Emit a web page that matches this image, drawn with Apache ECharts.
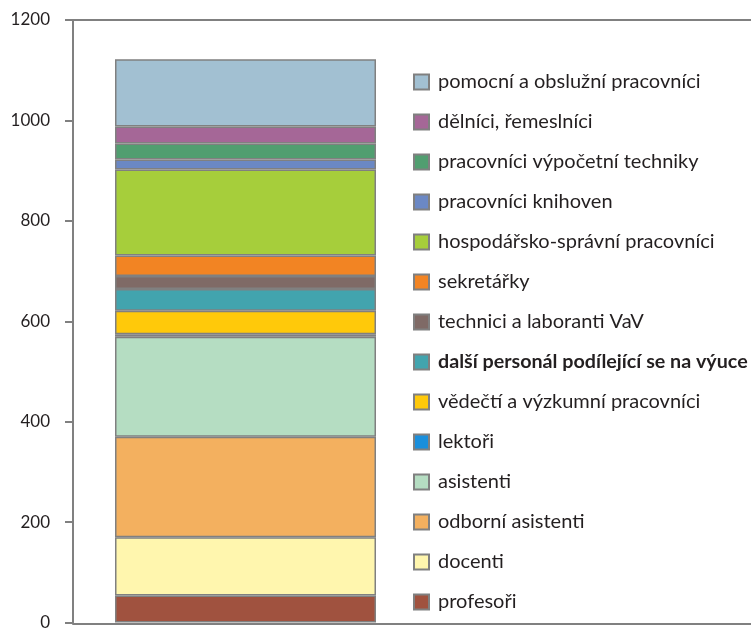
<!DOCTYPE html>
<html>
<head>
<meta charset="utf-8">
<script src="https://cdn.jsdelivr.net/npm/echarts@6/dist/echarts.min.js"></script>
<style>
  html, body { margin: 0; padding: 0; background: #fff; }
  #chart { width: 751px; height: 631px; }
</style>
</head>
<body>
<div id="chart"></div>
<script>
// kategorie odspodu nahoru (pořadí ve sloupci)
var names = [
  "profesoři",
  "docenti",
  "odborní asistenti",
  "asistenti",
  "lektoři",
  "vědečtí a výzkumní pracovníci",
  "další personál podílející se na výuce",
  "technici a laboranti VaV",
  "sekretářky",
  "hospodářsko-správní pracovníci",
  "pracovníci knihoven",
  "pracovníci výpočetní techniky",
  "dělníci, řemeslníci",
  "pomocní a obslužní pracovníci"
];
var values = [54, 116, 200, 199, 5, 47, 43, 26, 41, 171, 20, 32, 34, 134];
var colors = [
  "#A0523F", "#FFF6AE", "#F3B05F", "#B5DDC2", "#1A8FDC", "#FFC90A", "#42A4AE",
  "#7F6A66", "#F28423", "#A6CE3B", "#6B88C4", "#519E70", "#A56797", "#A2C0D2"
];
var yTicks = [0, 200, 400, 600, 800, 1000, 1200];

var chart = echarts.init(document.getElementById("chart"));

var series = names.map(function (n, i) {
  return {
    name: n,
    type: "bar",
    stack: "celkem",
    xAxisIndex: 2,
    yAxisIndex: 1,
    barWidth: 261,
    data: [values[i]],
    itemStyle: {
      color: colors[i],
      borderColor: "#808080",
      borderWidth: 1.5
    }
  };
});

// legenda shora dolů = obráceně
var legendData = names.slice().reverse().map(function (n) {
  if (n === "další personál podílející se na výuce") {
    return { name: n, textStyle: { fontWeight: "bold", fontSize: 19.7 } };
  }
  return { name: n };
});

var option = {
  backgroundColor: "#fff",
  animation: false,
  grid: [
    { left: 73, right: 0, top: 20, bottom: 7 },
    { left: 73, width: 345, top: 20, bottom: 7 }
  ],
  legend: {
    orient: "vertical",
    left: 413,
    top: 72,
    height: 560,
    padding: 0,
    itemWidth: 15,
    itemHeight: 15,
    itemGap: 20,
    icon: "rect",
    data: legendData,
    textStyle: {
      fontFamily: "Lato",
      fontSize: 20,
      color: "#231F20",
      lineHeight: 20,
      padding: [0, 0, 0, 4]
    }
  },
  xAxis: [
    {
      gridIndex: 0,
      type: "category",
      position: "bottom",
      data: [""],
      axisLine: { show: true, lineStyle: { color: "#808080", width: 2 } },
      axisTick: { show: false },
      axisLabel: { show: false }
    },
    {
      gridIndex: 0,
      type: "category",
      position: "top",
      data: [""],
      axisLine: { show: true, lineStyle: { color: "#808080", width: 2 } },
      axisTick: { show: false },
      axisLabel: { show: false }
    },
    {
      gridIndex: 1,
      type: "category",
      data: [""],
      axisLine: { show: false },
      axisTick: { show: false },
      axisLabel: { show: false }
    }
  ],
  yAxis: [
    {
      gridIndex: 0,
      type: "value",
      min: 0,
      max: 1200,
      show: false
    },
    {
      gridIndex: 1,
      type: "value",
      min: yTicks[0],
      max: yTicks[yTicks.length - 1],
      interval: 200,
      splitLine: { show: false },
      axisLine: { show: true, lineStyle: { color: "#808080", width: 2 } },
      axisTick: { show: true, length: 8, lineStyle: { color: "#808080", width: 2 } },
      axisLabel: {
        margin: 23,
        fontFamily: "Lato",
        fontSize: 17,
        color: "#231F20",
        formatter: function (v) { return String(v); }
      }
    }
  ],
  series: series
};

chart.setOption(option);
</script>
</body>
</html>
